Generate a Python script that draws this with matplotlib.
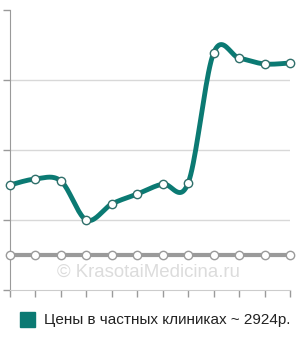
import numpy as np
import matplotlib.pyplot as plt
from matplotlib.patches import Rectangle

# values (price, rub)
months = list(range(12))
private_prices = [1500, 1586, 1557, 1000, 1229, 1371, 1514, 1529, 3386, 3314, 3229, 3243]
public_prices = [500] * 12
y_ticks = [0, 1000, 2000, 3000, 4000]
legend_label = 'Цены в частных клиниках ~ 2924р.'

teal = '#0b7a73'
grey = '#9a9a9a'


def catmull_rom(xs, ys, steps=20):  # smooth curve through the points
    xs = np.asarray(xs, float)
    ys = np.asarray(ys, float)
    px = np.concatenate([[xs[0]], xs, [xs[-1]]])
    py = np.concatenate([[ys[0]], ys, [ys[-1]]])
    out_x, out_y = [], []
    for i in range(1, len(px) - 2):
        t = np.linspace(0, 1, steps, endpoint=False)
        for p, out in ((px, out_x), (py, out_y)):
            p0, p1, p2, p3 = p[i - 1], p[i], p[i + 1], p[i + 2]
            out.extend(0.5 * ((2 * p1) + (-p0 + p2) * t
                              + (2 * p0 - 5 * p1 + 4 * p2 - p3) * t ** 2
                              + (-p0 + 3 * p1 - 3 * p2 + p3) * t ** 3))
    out_x.append(xs[-1])
    out_y.append(ys[-1])
    return out_x, out_y


fig = plt.figure(figsize=(3.0, 3.4), dpi=100)
ax = fig.add_axes([10 / 300, 50 / 340, 280 / 300, 280 / 340])

for y in y_ticks[1:-1]:
    ax.axhline(y, color='#d8d8d8', lw=1, zorder=0)

ax.plot(months, public_prices, color=grey, lw=3, zorder=2)
ax.plot(months, public_prices, 'o', ms=6, mfc='white', mec=grey, mew=1, zorder=3, clip_on=False)

sx, sy = catmull_rom(months, private_prices)
ax.plot(sx, sy, color=teal, lw=3.5, solid_capstyle='round', zorder=4)
ax.plot(months, private_prices, 'o', ms=6, mfc='white', mec='#2f6f6a', mew=1, zorder=5, clip_on=False)

ax.set_xlim(0, 11)
ax.set_ylim(0, 4000)
ax.set_xticks(months)
ax.set_yticks(y_ticks)
ax.set_xticklabels([])
ax.set_yticklabels([])
ax.tick_params(axis='both', length=5, color=grey, width=1)
for s in ['top', 'right']:
    ax.spines[s].set_visible(False)
ax.spines['left'].set_color(grey)
ax.spines['bottom'].set_color('#cccccc')

fig.text(148 / 300, 1 - 272 / 340, '© KrasotaiMedicina.ru', ha='center', va='center',
         fontsize=13.4, color='#dcdcdc', family='Liberation Sans')

fig.patches.append(Rectangle((20 / 300, 1 - 327 / 340), 15 / 300, 15 / 340,
                             transform=fig.transFigure, color=teal))
fig.text(44 / 300, 1 - 320 / 340, legend_label, ha='left', va='center',
         fontsize=11, color='#222222', family='Liberation Sans')

fig.savefig('out.png', dpi=100)
